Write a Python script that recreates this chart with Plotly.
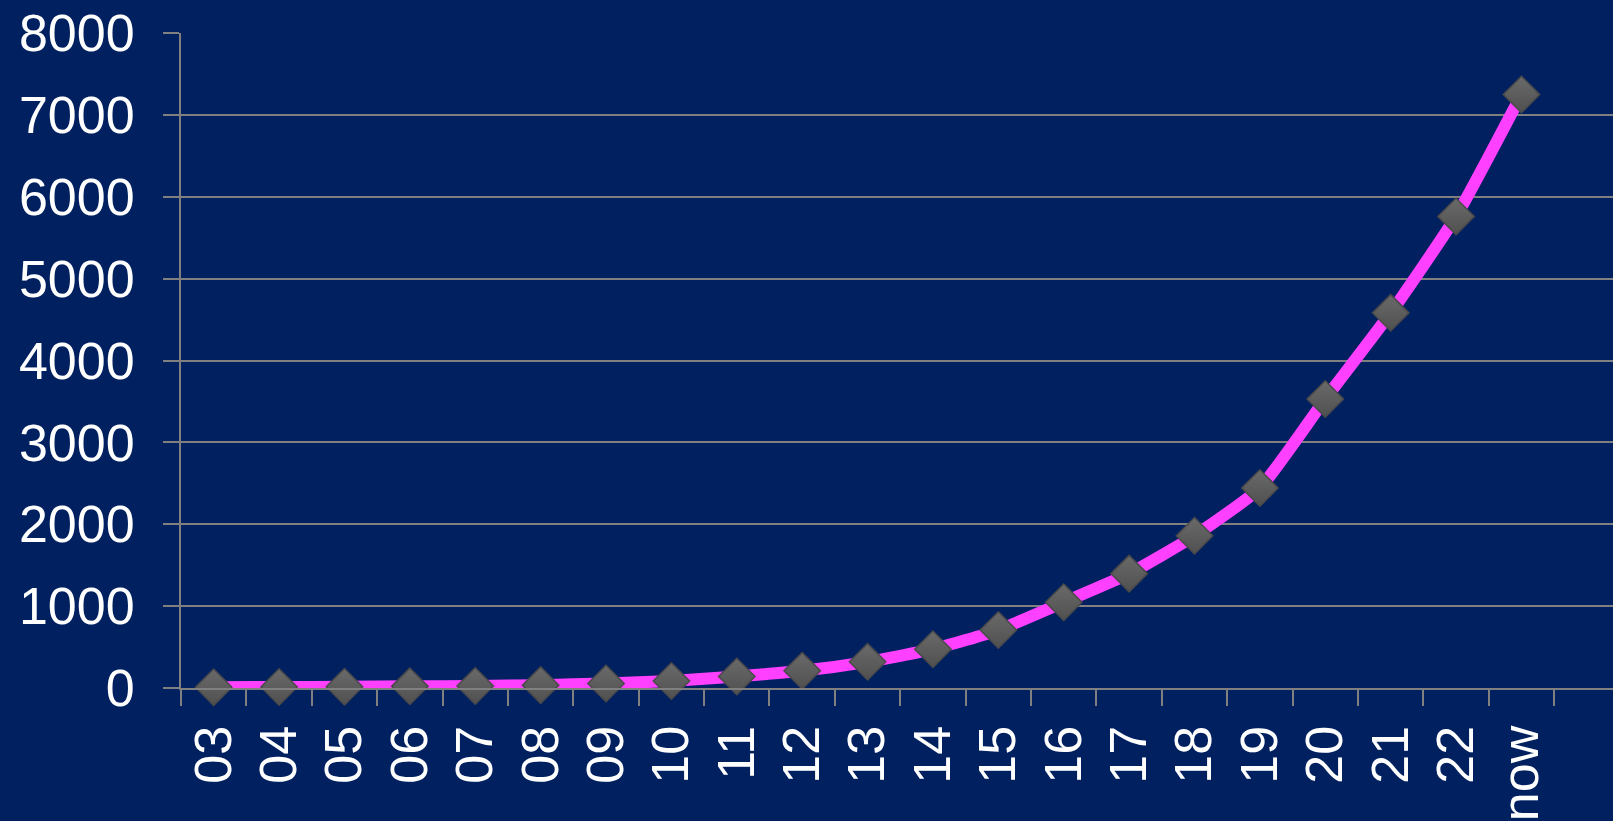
import plotly.graph_objects as go

categories = ["03", "04", "05", "06", "07", "08", "09", "10", "11", "12", "13",
              "14", "15", "16", "17", "18", "19", "20", "21", "22", "now"]
values = [10, 12, 15, 20, 25, 35, 55, 85, 141, 210, 320,
          474, 708, 1048, 1397, 1860, 2443, 3530, 4582, 5760, 7250]
y_ticks = [0, 1000, 2000, 3000, 4000, 5000, 6000, 7000, 8000]

BG = "#002060"
GRID = "#808080"
FONT = "Liberation Sans, Arial, sans-serif"

fig = go.Figure(
    go.Scatter(
        x=categories,
        y=values,
        mode="lines+markers",
        line=dict(color="#FF40FF", width=12, shape="spline", smoothing=0.5),
        marker=dict(
            symbol="diamond",
            size=28,
            color="#6a6a6a",
            gradient=dict(type="vertical", color="#505050"),
            line=dict(color="#4a4a4a", width=1.5),
        ),
        cliponaxis=False,
        showlegend=False,
    )
)

fig.update_layout(
    width=1613,
    height=821,
    paper_bgcolor=BG,
    plot_bgcolor=BG,
    margin=dict(l=181, r=0, t=33, b=128, pad=0),
    font=dict(family=FONT, color="white", size=52),
    xaxis=dict(
        type="category",
        range=[-0.5, 21.4],
        tickson="boundaries",
        ticks="outside",
        ticklen=16,
        tickwidth=2,
        tickcolor=GRID,
        showline=True,
        linecolor=GRID,
        linewidth=2,
        showgrid=False,
        tickangle=-90,
        tickfont=dict(family=FONT, size=52, color="white"),
        ticklabelstandoff=15,
        fixedrange=True,
    ),
    yaxis=dict(
        range=[0, 8000],
        tickvals=y_ticks,
        ticktext=[str(v) for v in y_ticks],
        ticks="outside",
        ticklen=16,
        tickwidth=2,
        tickcolor=GRID,
        showline=True,
        linecolor=GRID,
        linewidth=2,
        showgrid=True,
        gridcolor=GRID,
        gridwidth=2,
        zeroline=False,
        tickfont=dict(family=FONT, size=52, color="white"),
        ticklabelstandoff=18,
        fixedrange=True,
    ),
)

fig.write_html("out.html")
